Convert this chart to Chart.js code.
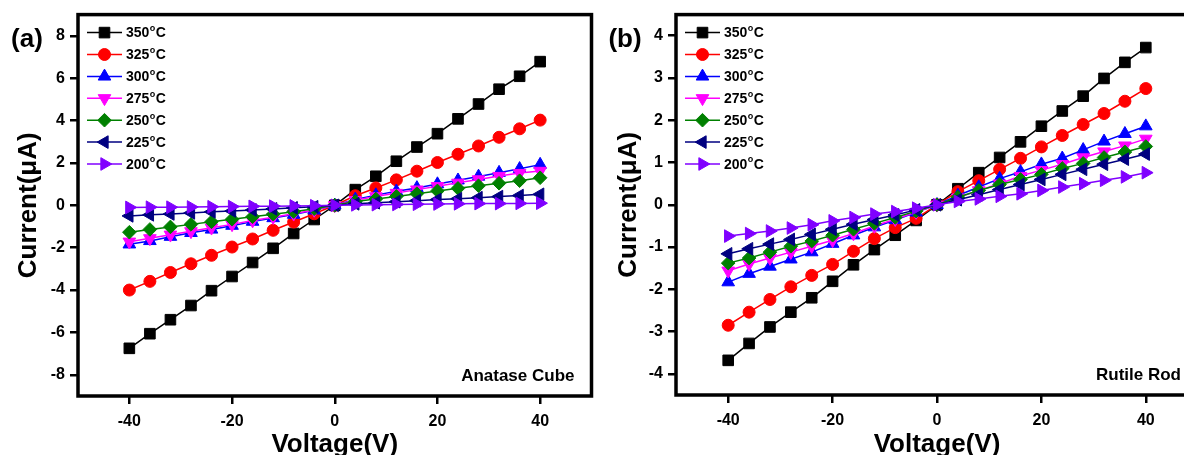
<!DOCTYPE html>
<html>
<head>
<meta charset="utf-8">
<title>I-V curves</title>
<script src="https://cdn.jsdelivr.net/npm/chart.js@4/dist/chart.umd.min.js"></script>
<style>
  html, body { margin: 0; padding: 0; background: #fff; width: 1184px; height: 455px; overflow: hidden; }
  #wrap { position: relative; width: 1184px; height: 455px; overflow: hidden; }
  canvas { position: absolute; top: 0; }
  #anatase { left: 0; }
  #rutile { left: 600px; }
</style>
</head>
<body>
<div id="wrap">
  <canvas id="anatase" width="600" height="455"></canvas>
  <canvas id="rutile" width="610" height="455"></canvas>
</div>
<script>
// sweep voltages (V)
const voltage = [-40, -36, -32, -28, -24, -20, -16, -12, -8, -4, 0, 4, 8, 12, 16, 20, 24, 28, 32, 36, 40];
const temps = ['350', '325', '300', '275', '250', '225', '200'];

// anatase cube, current in uA
const anatase350 = [-6.75, -6.06, -5.40, -4.73, -4.03, -3.36, -2.70, -2.03, -1.33, -0.67, 0, 0.74, 1.37, 2.08, 2.75, 3.38, 4.08, 4.78, 5.48, 6.09, 6.78];
const anatase325 = [-4.00, -3.59, -3.17, -2.76, -2.36, -1.97, -1.59, -1.18, -0.79, -0.40, 0, 0.45, 0.82, 1.20, 1.61, 2.02, 2.41, 2.80, 3.21, 3.61, 4.02];
const anatase300 = [-1.84, -1.68, -1.48, -1.30, -1.14, -0.96, -0.77, -0.60, -0.44, -0.24, 0, 0.28, 0.48, 0.66, 0.82, 1.00, 1.18, 1.36, 1.54, 1.72, 1.92];
const anatase275 = [-1.72, -1.56, -1.39, -1.23, -1.06, -0.90, -0.72, -0.56, -0.40, -0.22, 0, 0.24, 0.42, 0.58, 0.74, 0.90, 1.06, 1.22, 1.38, 1.52, 1.62];
const anatase250 = [-1.27, -1.14, -1.02, -0.90, -0.78, -0.66, -0.54, -0.42, -0.30, -0.16, 0, 0.18, 0.30, 0.42, 0.55, 0.68, 0.80, 0.92, 1.04, 1.16, 1.30];
const anatase225 = [-0.50, -0.45, -0.41, -0.36, -0.31, -0.27, -0.22, -0.17, -0.12, -0.07, 0, 0.07, 0.12, 0.17, 0.22, 0.27, 0.31, 0.36, 0.41, 0.46, 0.52];
const anatase200 = [-0.10, -0.09, -0.09, -0.08, -0.07, -0.06, -0.05, -0.04, -0.03, -0.02, 0, 0.02, 0.03, 0.04, 0.05, 0.06, 0.07, 0.08, 0.08, 0.09, 0.10];

// rutile rod, current in uA
const rutile350 = [-3.68, -3.28, -2.89, -2.54, -2.20, -1.81, -1.42, -1.06, -0.72, -0.37, 0, 0.38, 0.76, 1.12, 1.49, 1.86, 2.22, 2.57, 2.99, 3.37, 3.72];
const rutile325 = [-2.85, -2.54, -2.24, -1.94, -1.67, -1.41, -1.10, -0.80, -0.54, -0.32, 0, 0.31, 0.57, 0.84, 1.10, 1.37, 1.64, 1.90, 2.16, 2.45, 2.75];
const rutile300 = [-1.83, -1.63, -1.46, -1.29, -1.12, -0.92, -0.72, -0.53, -0.36, -0.18, 0, 0.22, 0.42, 0.62, 0.78, 0.96, 1.10, 1.30, 1.50, 1.68, 1.86];
const rutile275 = [-1.56, -1.40, -1.26, -1.12, -0.98, -0.84, -0.68, -0.50, -0.34, -0.17, 0, 0.17, 0.34, 0.50, 0.68, 0.82, 0.96, 1.12, 1.26, 1.40, 1.56];
const rutile250 = [-1.38, -1.26, -1.12, -0.98, -0.86, -0.72, -0.58, -0.44, -0.30, -0.15, 0, 0.18, 0.34, 0.48, 0.60, 0.72, 0.86, 0.98, 1.12, 1.25, 1.38];
const rutile225 = [-1.16, -1.04, -0.93, -0.82, -0.70, -0.58, -0.46, -0.35, -0.24, -0.12, 0, 0.12, 0.24, 0.36, 0.48, 0.60, 0.72, 0.84, 0.96, 1.08, 1.20];
const rutile200 = [-0.74, -0.68, -0.62, -0.55, -0.47, -0.38, -0.30, -0.22, -0.16, -0.08, 0, 0.08, 0.14, 0.20, 0.26, 0.34, 0.42, 0.50, 0.58, 0.66, 0.76];

// tick labels
const voltageTicks = [-40, -20, 0, 20, 40];
const anataseTicks = [-8, -6, -4, -2, 0, 2, 4, 6, 8];
const rutileTicks = [-4, -3, -2, -1, 0, 1, 2, 3, 4];

const FONT = '"Liberation Sans", Arial, sans-serif';

// marker style per temperature
const styles = [
  { color: '#000000', pointStyle: 'rect', rotation: 0, radius: 7.5 },
  { color: '#ff0000', pointStyle: 'circle', rotation: 0, radius: 6 },
  { color: '#0000ff', pointStyle: 'triangle', rotation: 0, radius: 7.3 },
  { color: '#ff00ff', pointStyle: 'triangle', rotation: 180, radius: 7.3 },
  { color: '#008000', pointStyle: 'rectRot', rotation: 0, radius: 6.8 },
  { color: '#000080', pointStyle: 'triangle', rotation: -90, radius: 7.3 },
  { color: '#8000ff', pointStyle: 'triangle', rotation: 90, radius: 7.3 }
];

function makeDatasets(series) {
  return series.map((vals, i) => ({
    label: temps[i] + '°C',
    data: vals.map((c, k) => ({ x: voltage[k], y: c })),
    borderColor: styles[i].color,
    backgroundColor: styles[i].color,
    pointBackgroundColor: styles[i].color,
    pointBorderColor: styles[i].color,
    pointBorderWidth: 1,
    pointStyle: styles[i].pointStyle,
    pointRotation: styles[i].rotation,
    pointRadius: styles[i].radius,
    borderWidth: 1.5,
    order: series.length - i   // later temperatures drawn on top
  }));
}

// frame, panel letter, sample name and the line+marker legend
const panelDecor = {
  id: 'panelDecor',
  afterDraw(chart, args, opts) {
    const { ctx, chartArea: a } = chart;
    ctx.save();
    ctx.strokeStyle = '#000';
    ctx.lineWidth = 3.5;
    ctx.strokeRect(a.left, a.top, a.right - a.left, a.bottom - a.top);

    ctx.fillStyle = '#000';
    ctx.textBaseline = 'middle';
    ctx.textAlign = 'center';
    ctx.font = 'bold 26px ' + FONT;
    ctx.fillText(opts.letter, opts.letterX, 40);

    ctx.textAlign = 'right';
    ctx.font = 'bold 17px ' + FONT;
    ctx.fillText(opts.sample, a.right - 17, a.bottom - 20);

    ctx.textAlign = 'left';
    chart.data.datasets.forEach((ds, i) => {
      const y = a.top + 18 + i * 21.9;
      const x0 = a.left + 9, x1 = a.left + 44;
      ctx.strokeStyle = ds.borderColor;
      ctx.lineWidth = ds.borderWidth;
      ctx.beginPath();
      ctx.moveTo(x0, y);
      ctx.lineTo(x1, y);
      ctx.stroke();
      ctx.fillStyle = ds.pointBackgroundColor;
      ctx.lineWidth = 1;
      Chart.helpers.drawPoint(ctx, {
        pointStyle: ds.pointStyle, rotation: ds.pointRotation,
        radius: ds.pointRadius, borderWidth: 1
      }, (x0 + x1) / 2, y);

      ctx.fillStyle = '#000';
      let tx = a.left + 48;
      ctx.font = 'bold 14px ' + FONT;
      ctx.fillText(temps[i], tx, y + 1);
      tx += ctx.measureText(temps[i]).width + 0.5;
      ctx.font = 'bold 9px ' + FONT;
      ctx.fillText('o', tx, y - 4);
      tx += ctx.measureText('o').width + 0.5;
      ctx.font = 'bold 14px ' + FONT;
      ctx.fillText('C', tx, y + 1);
    });
    ctx.restore();
  }
};

function ivChart(id, series, yMin, yMax, yTicks, pad, xHeight, decor) {
  return new Chart(document.getElementById(id), {
    type: 'line',
    data: { datasets: makeDatasets(series) },
    plugins: [panelDecor],
    options: {
      responsive: false,
      animation: false,
      layout: { padding: pad },
      plugins: {
        legend: { display: false },
        tooltip: { enabled: false },
        panelDecor: decor
      },
      scales: {
        x: {
          type: 'linear',
          min: -50, max: 50,
          afterBuildTicks: s => { s.ticks = voltageTicks.map(v => ({ value: v })); },
          afterFit: s => { s.height = xHeight; },
          border: { display: false },
          grid: { drawOnChartArea: false, tickLength: 8, lineWidth: 2.5, color: '#000' },
          ticks: { color: '#000', padding: 8, font: { family: FONT, size: 16, weight: 'bold' } },
          title: {
            display: true, text: 'Voltage(V)', color: '#000',
            padding: { top: 0, bottom: 0 },
            font: { family: FONT, size: 26, weight: 'bold', lineHeight: 0.8 }
          }
        },
        y: {
          min: yMin, max: yMax,
          afterBuildTicks: s => { s.ticks = yTicks.map(v => ({ value: v })); },
          afterFit: s => { s.width = decor.axisWidth; },
          border: { display: false },
          grid: { drawOnChartArea: false, tickLength: 8, lineWidth: 2.5, color: '#000' },
          ticks: { color: '#000', padding: 5, font: { family: FONT, size: 16, weight: 'bold' } },
          title: {
            display: true, text: 'Current(μA)', color: '#000',
            padding: { top: 16, bottom: 0 },
            font: { family: FONT, size: 26, weight: 'bold', lineHeight: 1 }
          }
        }
      }
    }
  });
}

ivChart('anatase',
  [anatase350, anatase325, anatase300, anatase275, anatase250, anatase225, anatase200],
  -9, 9, anataseTicks,
  { left: 0, top: 12, right: 3, bottom: 0 }, 59,
  { letter: '(a)', letterX: 27, sample: 'Anatase Cube', axisWidth: 78 });

ivChart('rutile',
  [rutile350, rutile325, rutile300, rutile275, rutile250, rutile225, rutile200],
  -4.5, 4.5, rutileTicks,
  { left: 0, top: 13, right: 12, bottom: 0 }, 60,
  { letter: '(b)', letterX: 25, sample: 'Rutile Rod', axisWidth: 76 });
</script>
</body>
</html>
